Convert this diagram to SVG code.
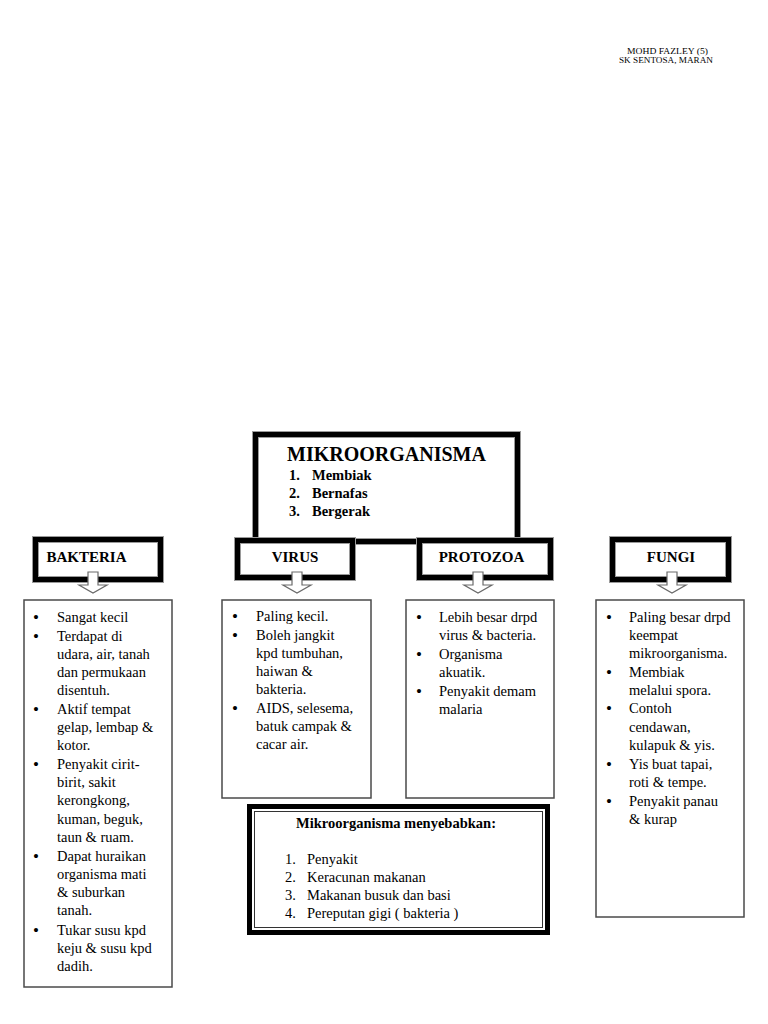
<svg xmlns="http://www.w3.org/2000/svg" width="768" height="1024" viewBox="0 0 768 1024">
<style>
text{font-family:"Liberation Serif","Times New Roman",serif;fill:#000}
.hd{font-size:9px}
.b{font-weight:bold;font-size:14.5px}
.lab{font-weight:bold;font-size:15px;text-anchor:middle}
.t{font-size:14.5px}
.bu{font-size:17px}
.band0{fill:#fff;stroke:#9a9a9a;stroke-width:7}
.band1{fill:none;stroke:#000;stroke-width:5}
.tb{fill:#fff;stroke:#4a4a4a;stroke-width:1.5}
.arr{fill:#fff;stroke:#6a6a6a;stroke-width:1.2}
</style>
<rect width="768" height="1024" fill="#fff"/>
<g id="header">
<text class="hd" x="627" y="54" textLength="81" lengthAdjust="spacingAndGlyphs">MOHD FAZLEY (5)</text>
<text class="hd" x="619" y="62.5" textLength="94" lengthAdjust="spacingAndGlyphs">SK SENTOSA, MARAN</text>
</g>
<g id="main">
<rect class="band0" x="255.5" y="434.5" width="262" height="107"/>
<rect class="band1" x="255.5" y="434.5" width="262" height="107"/>
<text x="287" y="461" font-weight="bold" font-size="20">MIKROORGANISMA</text>
<text class="b" x="289" y="480">1.</text><text class="b" x="312" y="480">Membiak</text>
<text class="b" x="289" y="498">2.</text><text class="b" x="312" y="498">Bernafas</text>
<text class="b" x="289" y="516">3.</text><text class="b" x="312" y="516">Bergerak</text>
</g>
<g id="bakteria">
<rect class="band0" x="35.5" y="539.5" width="125" height="40"/>
<rect class="band1" x="35.5" y="539.5" width="125" height="40"/>
<text class="lab" x="86.5" y="562">BAKTERIA</text>
</g>
<g id="virus">
<rect class="band0" x="237.5" y="540.5" width="115" height="37"/>
<rect class="band1" x="237.5" y="540.5" width="115" height="37"/>
<text class="lab" x="295" y="562">VIRUS</text>
</g>
<g id="protozoa">
<rect class="band0" x="419.5" y="540.5" width="131" height="37"/>
<rect class="band1" x="419.5" y="540.5" width="131" height="37"/>
<text class="lab" x="481.5" y="562">PROTOZOA</text>
</g>
<g id="fungi">
<rect class="band0" x="612.5" y="539.5" width="116" height="40"/>
<rect class="band1" x="612.5" y="539.5" width="116" height="40"/>
<text class="lab" x="671" y="562">FUNGI</text>
</g>
<g id="connectors">
<polygon class="arr" points="88,572 98,572 98,585 107,585 93,593 79,585 88,585"/>
<polygon class="arr" points="292,572 302,572 302,585 311,585 297,593 283,585 292,585"/>
<polygon class="arr" points="473,572 483,572 483,585 492,585 478,593 464,585 473,585"/>
<polygon class="arr" points="667,572 677,572 677,585 686,585 672,593 658,585 667,585"/>
</g>
<g id="bakteria-info">
<rect class="tb" x="24" y="600" width="148" height="387"/>
<g class="t">
<text class="bu" x="33" y="623">•</text><text x="57" y="622">Sangat kecil</text>
<text class="bu" x="33" y="642">•</text><text x="57" y="641">Terdapat di</text>
<text x="57" y="659">udara, air, tanah</text>
<text x="57" y="677">dan permukaan</text>
<text x="57" y="695">disentuh.</text>
<text class="bu" x="33" y="715">•</text><text x="57" y="714">Aktif tempat</text>
<text x="57" y="732">gelap, lembap &amp;</text>
<text x="57" y="750">kotor.</text>
<text class="bu" x="33" y="770">•</text><text x="57" y="769">Penyakit cirit-</text>
<text x="57" y="787">birit, sakit</text>
<text x="57" y="805">kerongkong,</text>
<text x="57" y="824">kuman, beguk,</text>
<text x="57" y="842">taun &amp; ruam.</text>
<text class="bu" x="33" y="862">•</text><text x="57" y="861">Dapat huraikan</text>
<text x="57" y="879">organisma mati</text>
<text x="57" y="897">&amp; suburkan</text>
<text x="57" y="915">tanah.</text>
<text class="bu" x="33" y="936">•</text><text x="57" y="935">Tukar susu kpd</text>
<text x="57" y="953">keju &amp; susu kpd</text>
<text x="57" y="971">dadih.</text>
</g>
</g>
<g id="virus-info">
<rect class="tb" x="222" y="600" width="149" height="198"/>
<g class="t">
<text class="bu" x="232" y="622">•</text><text x="256" y="621">Paling kecil.</text>
<text class="bu" x="232" y="641">•</text><text x="256" y="640">Boleh jangkit</text>
<text x="256" y="658">kpd tumbuhan,</text>
<text x="256" y="676">haiwan &amp;</text>
<text x="256" y="694">bakteria.</text>
<text class="bu" x="232" y="714">•</text><text x="256" y="713">AIDS, selesema,</text>
<text x="256" y="731">batuk campak &amp;</text>
<text x="256" y="749">cacar air.</text>
</g>
</g>
<g id="protozoa-info">
<rect class="tb" x="406" y="600" width="148" height="198"/>
<g class="t">
<text class="bu" x="416" y="623">•</text><text x="439" y="622">Lebih besar drpd</text>
<text x="439" y="640">virus &amp; bacteria.</text>
<text class="bu" x="416" y="660">•</text><text x="439" y="659">Organisma</text>
<text x="439" y="677">akuatik.</text>
<text class="bu" x="416" y="697">•</text><text x="439" y="696">Penyakit demam</text>
<text x="439" y="714">malaria</text>
</g>
</g>
<g id="fungi-info">
<rect class="tb" x="596" y="600" width="148" height="317"/>
<g class="t">
<text class="bu" x="606" y="623">•</text><text x="629" y="622">Paling besar drpd</text>
<text x="629" y="640">keempat</text>
<text x="629" y="658">mikroorganisma.</text>
<text class="bu" x="606" y="678">•</text><text x="629" y="677">Membiak</text>
<text x="629" y="695">melalui spora.</text>
<text class="bu" x="606" y="714">•</text><text x="629" y="713">Contoh</text>
<text x="629" y="732">cendawan,</text>
<text x="629" y="750">kulapuk &amp; yis.</text>
<text class="bu" x="606" y="770">•</text><text x="629" y="769">Yis buat tapai,</text>
<text x="629" y="787">roti &amp; tempe.</text>
<text class="bu" x="606" y="807">•</text><text x="629" y="806">Penyakit panau</text>
<text x="629" y="824">&amp; kurap</text>
</g>
</g>
<g id="effects">
<rect x="249.5" y="806.5" width="298" height="126" fill="#fff" stroke="#000" stroke-width="5"/>
<rect x="254.5" y="811.5" width="288" height="116" fill="none" stroke="#333" stroke-width="1"/>
<text class="b" x="396" y="828" text-anchor="middle">Mikroorganisma menyebabkan:</text>
<g class="t">
<text x="285" y="864">1.</text><text x="307" y="864">Penyakit</text>
<text x="285" y="882">2.</text><text x="307" y="882">Keracunan makanan</text>
<text x="285" y="900">3.</text><text x="307" y="900">Makanan busuk dan basi</text>
<text x="285" y="918">4.</text><text x="307" y="918">Pereputan gigi ( bakteria )</text>
</g>
</g>
</svg>
